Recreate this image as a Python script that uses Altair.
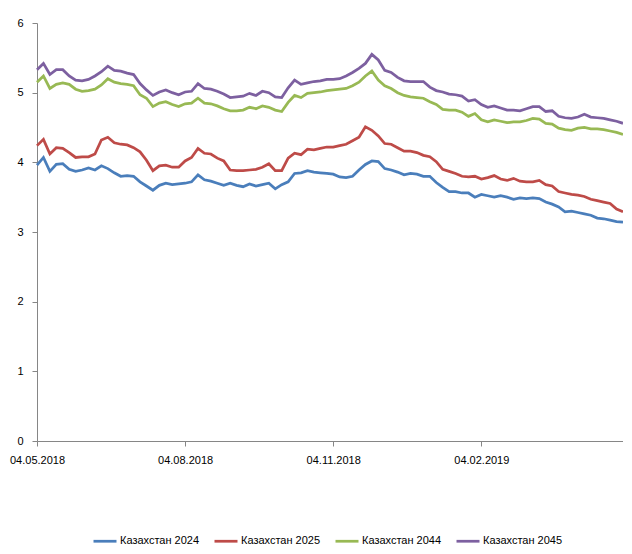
import altair as alt
import pandas as pd

# Dates: every 4 days from 04.05.2018 to 03.05.2019
dates = pd.date_range("2018-05-04", periods=92, freq="4D")

kz2024 = [3.96, 4.07, 3.87, 3.97, 3.98, 3.90, 3.87, 3.89, 3.92, 3.89,
          3.95, 3.91, 3.85, 3.80, 3.81, 3.80, 3.72, 3.66, 3.60, 3.67,
          3.70, 3.68, 3.69, 3.70, 3.72, 3.82, 3.75, 3.73, 3.70, 3.67,
          3.70, 3.67, 3.65, 3.69, 3.66, 3.68, 3.70, 3.62, 3.68, 3.72,
          3.84, 3.85, 3.88, 3.86, 3.85, 3.84, 3.83, 3.79, 3.78, 3.80,
          3.89, 3.97, 4.02, 4.01, 3.91, 3.89, 3.86, 3.82, 3.84, 3.83,
          3.80, 3.80, 3.71, 3.64, 3.58, 3.58, 3.56, 3.56, 3.50, 3.54,
          3.52, 3.50, 3.52, 3.50, 3.47, 3.49, 3.48, 3.49, 3.48, 3.43,
          3.40, 3.36, 3.29, 3.30, 3.28, 3.26, 3.24, 3.20, 3.19, 3.17,
          3.15, 3.14]

kz2025 = [4.24, 4.33, 4.12, 4.21, 4.20, 4.14, 4.07, 4.08, 4.08, 4.12,
          4.32, 4.36, 4.28, 4.26, 4.25, 4.21, 4.15, 4.03, 3.88, 3.95,
          3.96, 3.93, 3.93, 4.02, 4.07, 4.20, 4.13, 4.12, 4.06, 4.02,
          3.89, 3.88, 3.88, 3.89, 3.90, 3.93, 3.98, 3.88, 3.88, 4.06,
          4.13, 4.11, 4.19, 4.18, 4.20, 4.22, 4.22, 4.24, 4.26, 4.31,
          4.36, 4.51, 4.46, 4.38, 4.27, 4.26, 4.21, 4.16, 4.16, 4.14,
          4.10, 4.08, 4.01, 3.90, 3.87, 3.84, 3.80, 3.79, 3.80, 3.76,
          3.78, 3.81, 3.76, 3.74, 3.77, 3.73, 3.72, 3.72, 3.74, 3.68,
          3.66, 3.58, 3.56, 3.54, 3.53, 3.51, 3.47, 3.45, 3.43, 3.41,
          3.33, 3.29]

kz2044 = [5.15, 5.24, 5.06, 5.12, 5.14, 5.12, 5.05, 5.02, 5.03, 5.05,
          5.11, 5.20, 5.15, 5.13, 5.12, 5.10, 4.97, 4.92, 4.80, 4.85,
          4.87, 4.83, 4.80, 4.84, 4.85, 4.92, 4.85, 4.84, 4.81, 4.77,
          4.74, 4.74, 4.75, 4.79, 4.77, 4.81, 4.79, 4.75, 4.73, 4.86,
          4.96, 4.93, 4.99, 5.00, 5.01, 5.03, 5.04, 5.05, 5.06, 5.10,
          5.15, 5.24, 5.31, 5.18, 5.10, 5.06, 5.00, 4.96, 4.94, 4.93,
          4.92, 4.87, 4.83, 4.76, 4.75, 4.75, 4.72, 4.66, 4.70, 4.61,
          4.58, 4.61, 4.59, 4.57, 4.58, 4.58, 4.60, 4.63, 4.62, 4.56,
          4.55, 4.49, 4.47, 4.46, 4.49, 4.50, 4.48, 4.48, 4.47, 4.45,
          4.43, 4.40]

kz2045 = [5.33, 5.42, 5.26, 5.33, 5.33, 5.24, 5.18, 5.17, 5.19, 5.24,
          5.30, 5.38, 5.32, 5.31, 5.28, 5.26, 5.13, 5.04, 4.96, 5.01,
          5.04, 5.00, 4.97, 5.01, 5.02, 5.13, 5.06, 5.05, 5.02, 4.98,
          4.93, 4.94, 4.95, 4.99, 4.96, 5.02, 5.00, 4.94, 4.93, 5.07,
          5.18, 5.12, 5.14, 5.16, 5.17, 5.19, 5.19, 5.20, 5.24, 5.29,
          5.35, 5.42, 5.55, 5.47, 5.32, 5.29, 5.22, 5.17, 5.16, 5.16,
          5.16, 5.08, 5.03, 5.01, 4.98, 4.97, 4.95, 4.88, 4.90, 4.83,
          4.79, 4.81, 4.78, 4.75, 4.75, 4.74, 4.77, 4.80, 4.80, 4.73,
          4.74, 4.66, 4.64, 4.63, 4.65, 4.69, 4.65, 4.64, 4.63, 4.61,
          4.59, 4.56]

series_names = ["Казахстан 2024", "Казахстан 2025", "Казахстан 2044", "Казахстан 2045"]
series_colors = ["#4A7EBB", "#BE4B48", "#98B954", "#7D60A0"]
y_ticks = [0, 1, 2, 3, 4, 5, 6]
x_tick_dates = [(2018, 5, 4), (2018, 8, 4), (2018, 11, 4), (2019, 2, 4)]

rows = []
for name, vals in zip(series_names, [kz2024, kz2025, kz2044, kz2045]):
    for d, v in zip(dates, vals):
        rows.append({"date": d, "series": name, "value": v})
df = pd.DataFrame(rows)

font = "Liberation Sans"

chart = alt.Chart(df).mark_line(strokeWidth=2.75).encode(
    x=alt.X(
        "date:T",
        scale=alt.Scale(domain=[alt.DateTime(year=2018, month=5, date=4),
                                alt.DateTime(year=2019, month=5, date=3)]),
        axis=alt.Axis(
            values=[alt.DateTime(year=y, month=m, date=d) for (y, m, d) in x_tick_dates],
            format="%d.%m.%Y", title=None, grid=False, labelAngle=0,
            tickSize=5, labelPadding=8, labelFlush=False, labelOverlap=False,
        ),
    ),
    y=alt.Y(
        "value:Q",
        scale=alt.Scale(domain=[0, 6], nice=False, zero=True),
        axis=alt.Axis(values=y_ticks, title=None, grid=False, tickSize=5,
                      labelPadding=9, format="d"),
    ),
    color=alt.Color(
        "series:N",
        scale=alt.Scale(domain=series_names, range=series_colors),
        legend=alt.Legend(
            title=None, orient="none", direction="horizontal",
            legendX=55, legendY=505, padding=0,
            symbolType="stroke", symbolSize=529, symbolStrokeWidth=2.75,
            labelOffset=2, columnPadding=9, labelFontSize=11, labelFont=font,
            labelColor="#000000",
        ),
    ),
).properties(
    width=586, height=418,
    padding={"left": 29, "top": 15, "right": 0, "bottom": 104},
    autosize="none",
).configure_view(stroke=None).configure_axis(
    domainColor="#868686", tickColor="#868686", labelFont=font,
    labelFontSize=11, labelColor="#000000", domainWidth=1, tickWidth=1,
)

chart.save("out.html", embed_options={"renderer": "svg", "actions": False})
